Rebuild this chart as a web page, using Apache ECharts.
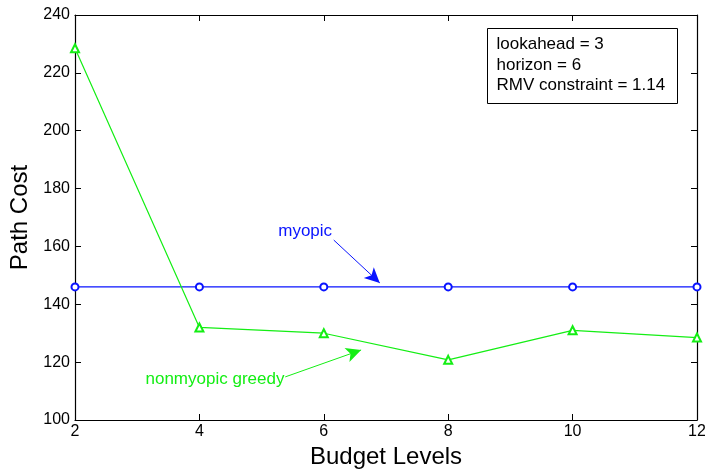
<!DOCTYPE html>
<html><head><meta charset="utf-8">
<script src="https://cdn.jsdelivr.net/npm/echarts@6/dist/echarts.min.js"></script>
<style>html,body{margin:0;padding:0;background:#fff}#c{width:705px;height:471px}</style>
</head><body><div id="c"></div>
<script>
const budgetLevels = [2, 4, 6, 8, 10, 12];
const myopicCost = [146, 146, 146, 146, 146, 146];
const nonmyopicCost = [228.5, 132, 130, 120.8, 131, 128.5];
const infoLines = ['lookahead = 3', 'horizon = 6', 'RMV constraint = 1.14'];
// annotations in data units: [textPos, arrowStart, arrowEnd]
const myopicNote = {text: 'myopic', at: [5.7, 165.3], from: [6.16, 162.2], to: [6.9, 147.4]};
const greedyNote = {text: 'nonmyopic greedy', at: [4.25, 114.2], from: [5.38, 114.9], to: [6.6, 124.2]};

const FONT = '"Liberation Sans", Arial, Helvetica, sans-serif';
const BLUE = '#0a14ff', GREEN = '#14ee14';
const chart = echarts.init(document.getElementById('c'));

function noteSeries(note, color) {
  return {
    type: 'line', data: [], silent: true,
    markLine: {
      silent: true, animation: false,
      symbol: ['none', 'arrow'], symbolSize: [11, 15],
      lineStyle: {color: color, width: 1, type: 'solid'},
      label: {show: false},
      data: [[{coord: note.from}, {coord: note.to}]]
    },
    markPoint: {
      silent: true, animation: false,
      symbol: 'circle', symbolSize: 1, itemStyle: {color: 'rgba(0,0,0,0)'},
      label: {show: true, position: 'inside', formatter: note.text, color: color, fontSize: 17, fontFamily: FONT},
      data: [{coord: note.at}]
    }
  };
}

const axisCommon = {
  axisLine: {show: true, onZero: false, lineStyle: {color: '#000', width: 1.2}},
  axisTick: {show: true, inside: true, length: 6, lineStyle: {color: '#000'}},
  splitLine: {show: false}
};

chart.setOption({
  animation: false,
  grid: {left: 75, right: 8, top: 15, bottom: 51, containLabel: false, outerBoundsMode: 'none'},
  xAxis: [
    Object.assign({type: 'value', min: 2, max: 12, interval: 2, position: 'bottom',
      name: 'Budget Levels', nameLocation: 'middle', nameGap: 23,
      nameTextStyle: {fontSize: 24, color: '#000', fontFamily: FONT},
      axisLabel: {fontSize: 16, color: '#000', fontFamily: FONT, margin: 4}}, axisCommon),
    Object.assign({type: 'value', min: 2, max: 12, interval: 2, position: 'top',
      axisLabel: {show: false}}, axisCommon)
  ],
  yAxis: [
    Object.assign({type: 'value', min: 100, max: 240, interval: 20, position: 'left',
      name: 'Path Cost', nameLocation: 'middle', nameGap: 33,
      nameTextStyle: {fontSize: 24, color: '#000', fontFamily: FONT},
      axisLabel: {fontSize: 16, color: '#000', fontFamily: FONT, margin: 5}}, axisCommon),
    Object.assign({type: 'value', min: 100, max: 240, interval: 20, position: 'right',
      axisLabel: {show: false}}, axisCommon)
  ],
  series: [
    {name: 'myopic', type: 'line', data: budgetLevels.map((b, i) => [b, myopicCost[i]]),
      symbol: 'emptyCircle', symbolSize: 7, lineStyle: {color: BLUE, width: 1.2},
      itemStyle: {color: BLUE, borderWidth: 1}},
    {name: 'nonmyopic greedy', type: 'line', data: budgetLevels.map((b, i) => [b, nonmyopicCost[i]]),
      symbol: 'emptyTriangle', symbolSize: 8, lineStyle: {color: GREEN, width: 1.2},
      itemStyle: {color: GREEN, borderWidth: 1}},
    noteSeries(myopicNote, BLUE),
    noteSeries(greedyNote, GREEN)
  ],
  graphic: [{
    type: 'group', left: 487, top: 28,
    children: [
      {type: 'rect', shape: {x: 0, y: 0, width: 190, height: 75}, style: {fill: '#fff', stroke: '#000', lineWidth: 1}},
      {type: 'text', x: 9, y: 6, style: {text: infoLines.join('\n'), font: '17px ' + FONT, lineHeight: 20.5, fill: '#000'}}
    ]
  }]
});
</script></body></html>
